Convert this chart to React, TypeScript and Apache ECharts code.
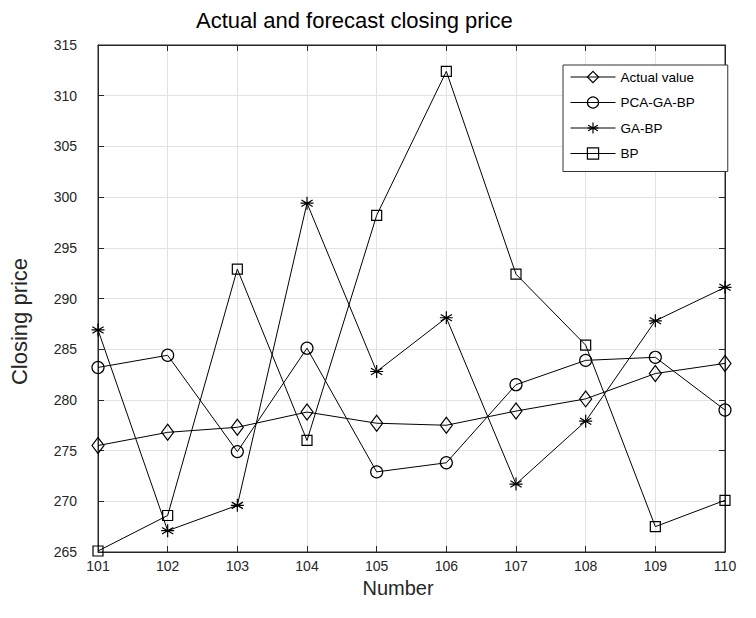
import React, { useEffect, useRef } from "react";
import * as echarts from "echarts";

const numbers = [101, 102, 103, 104, 105, 106, 107, 108, 109, 110];
const actualValue = [275.5, 276.8, 277.3, 278.8, 277.7, 277.5, 278.9, 280.1, 282.6, 283.6];
const pcaGaBp = [283.2, 284.4, 274.9, 285.1, 272.9, 273.8, 281.5, 283.9, 284.2, 279.0];
const gaBp = [286.9, 267.1, 269.6, 299.4, 282.8, 288.1, 271.7, 277.9, 287.8, 291.1];
const bp = [265.1, 268.6, 292.9, 276.0, 298.2, 312.4, 292.4, 285.4, 267.5, 270.1];
const seriesNames = ["Actual value", "PCA-GA-BP", "GA-BP", "BP"];

const ASTERISK = "path://M0,-10L0,10M-8.66,-5L8.66,5M-8.66,5L8.66,-5M-10,0L10,0";
const FONT = "Liberation Sans, Arial, Helvetica, sans-serif";
const TXT = "#262626";

export default function App() {
  const ref = useRef<HTMLDivElement>(null);
  useEffect(() => {
    const chart = echarts.init(ref.current!, null, { renderer: "svg" });
    const mk = (name: string, vals: number[], symbol: string, size: any) => ({
      name,
      type: "line",
      data: numbers.map((n, i) => [n, vals[i]]),
      symbol,
      symbolSize: size,
      showAllSymbol: true,
      symbolKeepAspect: true,
      lineStyle: { color: "#000", width: 1 },
      itemStyle: { color: "rgba(0,0,0,0)", borderColor: "#000", borderWidth: 1.2 },
      emphasis: { disabled: true },
      z: 3,
    });
    const gridLine = { show: true, lineStyle: { color: "#e2e2e2", width: 1 } };
    chart.setOption({
      animation: false,
      textStyle: { fontFamily: FONT },
      title: {
        text: "Actual and forecast closing price",
        left: 188,
        top: 1,
        padding: 0,
        textStyle: { fontSize: 22, fontWeight: "normal", color: "#000", fontFamily: FONT },
      },
      grid: {
        left: 90,
        right: 31,
        top: 37,
        bottom: 66,
        show: true,
        borderColor: TXT,
        borderWidth: 1,
        backgroundColor: "#fff",
        containLabel: false,
        outerBoundsMode: "none",
      },
      legend: {
        left: 555,
        top: 57,
        orient: "vertical",
        data: seriesNames,
        backgroundColor: "#fff",
        borderColor: "#333",
        borderWidth: 1,
        padding: [5, 33, 11, 7],
        itemWidth: 45,
        itemHeight: 14,
        itemGap: 11.5,
        lineStyle: { width: 1, color: "#000" },
        itemStyle: { borderWidth: 1.2 },
        textStyle: { fontSize: 13.5, color: "#000", fontFamily: FONT },
      },
      xAxis: [
        {
          type: "value",
          min: 101,
          max: 110,
          interval: 1,
          name: "Number",
          nameLocation: "middle",
          nameGap: 26,
          nameTextStyle: { fontSize: 20, color: TXT, fontFamily: FONT, padding: [0, 27, 0, 0] },
          axisLine: { show: true, lineStyle: { color: TXT } },
          axisTick: { inside: true, length: 6, lineStyle: { color: TXT } },
          axisLabel: { fontSize: 14, color: TXT, margin: 7, fontFamily: FONT },
          splitLine: gridLine,
        },
        {
          type: "value",
          position: "top",
          min: 101,
          max: 110,
          interval: 1,
          axisLine: { show: true, lineStyle: { color: TXT } },
          axisTick: { inside: true, length: 6, lineStyle: { color: TXT } },
          axisLabel: { show: false },
          splitLine: { show: false },
        },
      ],
      yAxis: [
        {
          type: "value",
          min: 265,
          max: 315,
          interval: 5,
          name: "Closing price",
          nameLocation: "middle",
          nameGap: 68,
          nameTextStyle: { fontSize: 22, color: TXT, fontFamily: FONT, padding: [0, 46, 0, 0] },
          axisLine: { show: true, lineStyle: { color: TXT } },
          axisTick: { inside: true, length: 6, lineStyle: { color: TXT } },
          axisLabel: { fontSize: 14, color: TXT, margin: 21, fontFamily: FONT },
          splitLine: gridLine,
        },
        {
          type: "value",
          position: "right",
          min: 265,
          max: 315,
          interval: 5,
          axisLine: { show: true, lineStyle: { color: TXT } },
          axisTick: { inside: true, length: 6, lineStyle: { color: TXT } },
          axisLabel: { show: false },
          splitLine: { show: false },
        },
      ],
      series: [
        mk(seriesNames[0], actualValue, "diamond", [12, 16]),
        mk(seriesNames[1], pcaGaBp, "circle", 12),
        mk(seriesNames[2], gaBp, ASTERISK, 13),
        mk(seriesNames[3], bp, "rect", 10),
      ],
    });
    return () => chart.dispose();
  }, []);
  return <div ref={ref} style={{ width: 748, height: 610 }} />;
}
